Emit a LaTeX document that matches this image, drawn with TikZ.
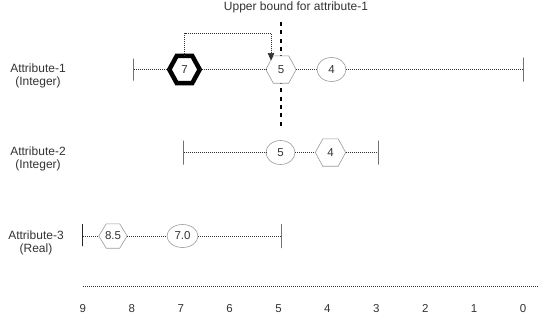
\documentclass[tikz,border=0pt]{standalone}
\usepackage{fontspec}
\setmainfont{Liberation Sans}
\usetikzlibrary{shapes.geometric,arrows.meta}
\pgfdeclarelayer{background}
\pgfsetlayers{background,main}
\definecolor{txt}{HTML}{333333}
\definecolor{edge}{HTML}{9A9A9A}
\newcommand\hexdraw[2][]{\draw[#1] (#2.west) -- ([xshift=7.5pt]#2.north west) -- ([xshift=-7.5pt]#2.north east) -- (#2.east) -- ([xshift=-7.5pt]#2.south east) -- ([xshift=7.5pt]#2.south west) -- cycle;}
\begin{document}
\begin{tikzpicture}[x=1pt,y=-1pt,
  lab/.style={font=\fontsize{12}{13}\selectfont, text=txt, align=center, inner sep=0},
  num/.style={font=\fontsize{11.5}{13}\selectfont, text=txt, inner sep=0, anchor=base},
  hexbox/.style={rectangle, minimum width=30pt, minimum height=27pt, inner sep=0, font=\fontsize{11.5}{13}\selectfont, text=txt},
  oval/.style={ellipse, draw=edge, fill=white, line width=0.6pt, minimum width=29pt, minimum height=24pt, inner sep=0, font=\fontsize{11.5}{13}\selectfont, text=txt},
  bar/.style={rectangle, draw=black!85, line width=1pt, minimum width=0pt, minimum height=22pt, inner sep=0},
  link/.style={draw=black!80, line width=0.7pt, dash pattern=on 1pt off 1pt},
  lighthex/.style={draw=edge, fill=white, line width=0.6pt},
  boldhex/.style={draw=black, fill=white, line width=4.5pt, line join=miter},
  bound/.style={draw=black, line width=2.7pt, dash pattern=on 4pt off 4.3pt}
  ]
\useasboundingbox (0,0) rectangle (538,322);

% labels
\node[lab] (ub) at (296,7) {Upper bound for attribute-1};
\node[lab] (l1) at (38,75.5) {Attribute-1\\(Integer)};
\node[lab] (l2) at (38,159) {Attribute-2\\(Integer)};
\node[lab] (l3) at (36,243) {Attribute-3\\(Real)};

% upper bound line
\coordinate (ubtop) at (281,22);
\coordinate (ubbot) at (281,128);

% row 1
\node[bar] (b1a) at (133,69.5) {};
\node[hexbox] (h7) at (184.5,69.5) {7};
\node[hexbox] (h5) at (281,69.5) {5};
\node[oval] (o4) at (331.5,69.5) {4};
\node[bar, minimum height=24pt] (b1b) at (523,69.5) {};

% row 2
\node[bar, minimum height=24pt] (b2a) at (183,152.5) {};
\node[oval] (o5) at (280.5,152.5) {5};
\node[hexbox] (h4) at (330.5,152.5) {4};
\node[bar, minimum height=24pt] (b2b) at (378,152.5) {};

% row 3
\node[bar] (b3a) at (82.5,235) {};
\node[hexbox, minimum width=28pt, minimum height=24pt] (h85) at (113,236) {8.5};
\node[oval, minimum width=31pt, minimum height=23pt] (o70) at (182.5,236) {7.0};
\node[bar, minimum height=24pt] (b3b) at (281,236) {};

\begin{pgfonlayer}{background}
\draw[bound] (ubtop) -- (ubbot);
\hexdraw[boldhex]{h7}
\hexdraw[lighthex]{h5}
\hexdraw[lighthex]{h4}
\hexdraw[lighthex]{h85}
\end{pgfonlayer}

\draw[link] (b1a.east) -- (h7.west);
\draw[link] (h7.east) -- (h5.west);
\draw[link] (h5.east) -- (o4.west);
\draw[link] (o4.east) -- (b1b.west);
\coordinate (c1) at (271,33);
\coordinate (tip) at (271,60.5);
\draw[link, -{Triangle[width=6.5pt,length=7.5pt]}] (h7.north) |- (c1) -- (tip);

\draw[link] (b2a.east) -- (o5.west);
\draw[link] (o5.east) -- (h4.west);
\draw[link] (h4.east) -- (b2b.west);

\draw[link] (b3a.east |- h85.west) -- (h85.west);
\draw[link] (h85.east) -- (o70.west);
\draw[link] (o70.east) -- (b3b.west);

% axis
\coordinate (ax0) at (83,286);
\coordinate (ax1) at (538,286);
\draw[link] (ax0) -- (ax1);
\foreach \v in {0,...,9} {
  \node[num] (n\v) at ({523-48.9*\v},312) {\v};
}
\end{tikzpicture}
\end{document}
